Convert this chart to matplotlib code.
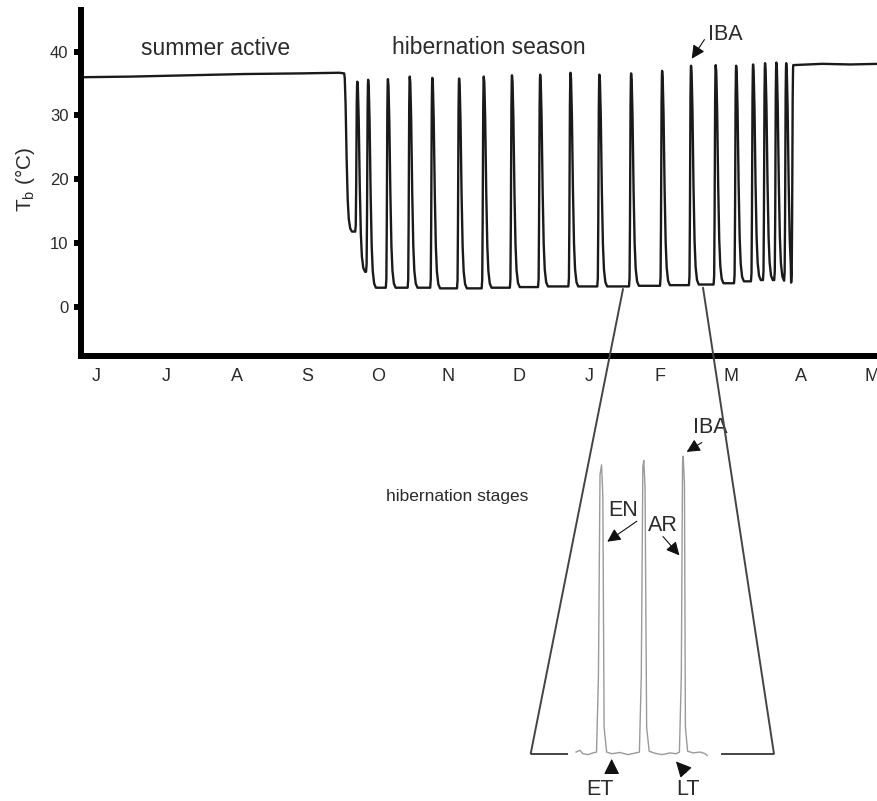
"""Body temperature trace across a hibernation season, with a zoomed inset of bout stages."""
import matplotlib
matplotlib.use("Agg")
import matplotlib.pyplot as plt
from matplotlib.patches import ConnectionPatch

plt.rcParams["font.family"] = ["Liberation Sans", "DejaVu Sans"]
plt.rcParams["mathtext.default"] = "regular"

# --- data (x in months from 1 June, Tb in degC) ---
month_labels = ["J", "J", "A", "S", "O", "N", "D", "J", "F", "M", "A", "M"]

summer_t = [0.29, 1.0, 1.8, 2.6, 3.4, 3.95, 4.02]
summer_tb = [36.0, 36.1, 36.3, 36.5, 36.6, 36.7, 36.6]

# one entry per arousal: time of the peak, peak Tb, minimum Tb of the torpor bout before it
arousal_t = [4.206, 4.36, 4.64, 4.95, 5.27, 5.65, 6.00, 6.40, 6.80, 7.23, 7.64,
             8.09, 8.53, 8.94, 9.29, 9.58, 9.82, 9.99, 10.15, 10.29, 10.39]
arousal_peak = [35.3, 35.6, 35.7, 36.1, 35.9, 35.8, 36.1, 36.3, 36.4, 36.7, 36.4,
                36.6, 37.0, 37.8, 37.9, 37.8, 38.0, 38.2, 38.3, 38.2, 37.9]
torpor_min = [11.8, 5.5, 3.0, 3.0, 3.0, 2.9, 2.9, 3.0, 3.1, 3.2, 3.2,
              3.2, 3.3, 3.4, 3.5, 3.7, 4.0, 4.2, 4.2, 4.1, 3.8]

spring_t = [10.39, 10.8, 11.2, 11.6]
spring_tb = [37.9, 38.1, 38.0, 38.1]

# zoom window on the main trace (start / end of the magnified stretch)
zoom_t = [7.975, 9.11]
zoom_tb = [2.8, 3.0]

# inset trace (x in days of the detailed record)
inset_t = [14.4, 15.6, 16.6, 18.2, 19.8,
           20.9, 21.5, 22.0, 22.5, 22.9, 23.3, 24.1,
           25.8, 28.3, 30.9, 33.4,
           34.5, 35.1, 35.6, 35.9, 36.3, 36.8, 37.6,
           39.5, 41.7, 44.2, 46.1,
           47.2, 47.8, 48.2, 48.4, 48.8, 49.1, 49.8,
           51.5, 53.8, 55.4, 56.0]
inset_tb = [3.1, 3.3, 2.9, 2.8, 3.0,
            3.1, 12.0, 35.5, 36.7, 33.0, 6.0, 3.1,
            2.9, 3.05, 2.8, 3.0,
            3.1, 12.0, 36.5, 37.2, 34.0, 6.0, 3.2,
            2.95, 2.8, 3.0, 2.9,
            3.1, 12.0, 37.0, 37.7, 34.5, 6.0, 3.2,
            3.0, 3.1, 2.9, 2.7]
inset_xlim = [0, 77.2]
inset_base_tb = 2.9
inset_base_gaps = [11.5, 60.7]

# --- spike outline used for each arousal/entry in the season trace ---
ENTRY = [(0.0, 1.0), (0.008, 0.97), (0.02, 0.8), (0.035, 0.45), (0.05, 0.2),
         (0.065, 0.08), (0.085, 0.02), (0.11, 0.0)]
RISE = [(-0.03, 0.0), (-0.022, 0.04), (-0.016, 0.3), (-0.008, 0.85),
        (-0.003, 0.98), (0.0, 1.0)]

trace_t, trace_tb = list(summer_t), list(summer_tb)
prev_t, prev_tb = summer_t[-1], summer_tb[-1]
for ta, peak, low in zip(arousal_t, arousal_peak, torpor_min):
    rise_start = ta + RISE[0][0]
    for dt, f in ENTRY[1:]:
        if prev_t + dt < rise_start:
            trace_t.append(prev_t + dt)
            trace_tb.append(low + f * (prev_tb - low))
    for dt, f in RISE:
        trace_t.append(ta + dt)
        trace_tb.append(low + f * (peak - low))
    prev_t, prev_tb = ta, peak
trace_t += spring_t[1:]
trace_tb += spring_tb[1:]

INK = "#1a1a1a"
TXT = "#2b2b2b"

fig = plt.figure(figsize=(8.77, 8.01), dpi=100)

# --- main season panel ---
ax = fig.add_axes([0.0924, 0.5556, 0.9076, 0.4320])
ax.plot(trace_t, trace_tb, color=INK, lw=1.7, solid_joinstyle="round")
ax.set_xlim(0.287, 11.578)
ax.set_ylim(-7.7, 46.55)

for side in ("top", "right"):
    ax.spines[side].set_visible(False)
for side in ("left", "bottom"):
    ax.spines[side].set_linewidth(4.3)
    ax.spines[side].set_color("black")
    ax.spines[side].set_capstyle("projecting")

ax.set_yticks([0, 10, 20, 30, 40])
ax.tick_params(axis="y", direction="out", length=5, width=4.3, color="black",
               labelsize=12, labelcolor=TXT, pad=4)
ax.set_xticks([i + 0.5 for i in range(len(month_labels))])
ax.set_xticklabels(month_labels)
ax.tick_params(axis="x", length=0, labelsize=13, labelcolor=TXT, pad=9)

ax.set_ylabel("T$_{b}$ (°C)", fontsize=15, color=TXT)
ax.yaxis.set_label_coords(-0.055, 0.51)

ax.text(2.19, 40.5, "summer active", fontsize=16.5, color=TXT, ha="center", va="center")
ax.text(6.07, 40.7, "hibernation season", fontsize=16.5, color=TXT, ha="center", va="center")
ax.text(9.43, 42.7, "IBA", fontsize=15.5, color=TXT, ha="center", va="center")

arrow = dict(arrowstyle="-|>", mutation_scale=20, lw=0.8, color="#111111",
             shrinkA=0, shrinkB=0)
ax.annotate("", xy=(8.95, 38.9), xytext=(9.13, 41.9), arrowprops=arrow,
            annotation_clip=False)

# --- inset with hibernation stages ---
axin = fig.add_axes([0.6051, 0.0387, 0.2774, 0.4163])
axin.plot(inset_t, inset_tb, color="#9a9a9a", lw=1.0, clip_on=False)
axin.plot([inset_xlim[0], inset_base_gaps[0]], [inset_base_tb] * 2, color="#444444", lw=1.4)
axin.plot([inset_base_gaps[1], inset_xlim[1]], [inset_base_tb] * 2, color="#444444", lw=1.4)
axin.set_xlim(inset_xlim)
axin.set_ylim(1.0, 40.0)
axin.axis("off")

for (xa, ya), xb in zip(zip(zoom_t, zoom_tb), inset_xlim):
    con = ConnectionPatch(xyA=(xa, ya), coordsA=ax.transData,
                          xyB=(xb, inset_base_tb), coordsB=axin.transData,
                          color="#444444", lw=1.4)
    fig.add_artist(con)

labels = [
    ("IBA", (56.9, 41.0), (54.3, 39.3), (49.5, 38.2), 15.5, 20),
    ("EN", (29.2, 31.3), (33.7, 30.1), (24.3, 27.7), 15.5, 20),
    ("AR", (42.1, 29.6), (42.0, 28.3), (47.2, 26.1), 15.5, 20),
    ("ET", (22.0, -1.3), (25.7, 0.6), (25.7, 2.3), 15.5, 24),
    ("LT", (49.8, -1.3), (49.3, 0.7), (46.1, 2.0), 15.5, 24),
]
for name, pos, tail, tip, size, head in labels:
    axin.text(pos[0], pos[1], name, fontsize=size, color=TXT, ha="center",
              va="center", clip_on=False)
    props = dict(arrow, mutation_scale=head)
    axin.annotate("", xy=tip, xytext=tail, arrowprops=props, annotation_clip=False)

fig.text(457 / 877, 1 - 497 / 801, "hibernation stages", fontsize=12.5,
         color=TXT, ha="center", va="center")

fig.savefig("out.png", dpi=100)
